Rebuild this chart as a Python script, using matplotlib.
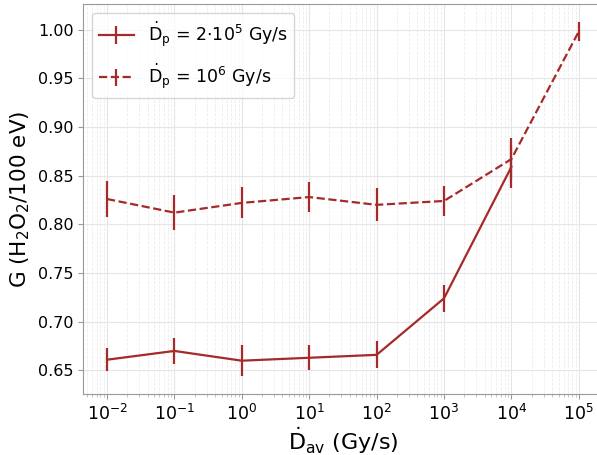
import matplotlib
matplotlib.use("Agg")
import matplotlib.pyplot as plt

# dose rate (Gy/s)
dose_rate = [1e-2, 1e-1, 1e0, 1e1, 1e2, 1e3, 1e4, 1e5]

# Dp = 2e5 Gy/s (ends at 1e4)
g_low = [0.661, 0.670, 0.660, 0.663, 0.666, 0.724, 0.859]
err_low = [0.012, 0.013, 0.016, 0.013, 0.014, 0.014, 0.022]

# Dp = 1e6 Gy/s
g_high = [0.826, 0.812, 0.822, 0.828, 0.820, 0.824, 0.867, 0.998]
err_high = [0.018, 0.018, 0.016, 0.015, 0.017, 0.015, 0.022, 0.010]

color = "#a52a2a"

fig = plt.figure(figsize=(5.97, 4.55), dpi=100)
ax = fig.add_axes([83.4 / 597, 61 / 455, 519 / 597, 390 / 455])

ax.errorbar(dose_rate[:len(g_low)], g_low, yerr=err_low, color=color, lw=1.6,
            elinewidth=1.6, capsize=0,
            label=r"$\dot{\mathrm{D}}_{\mathrm{p}}$ = 2$\cdot$10$^{5}$ Gy/s")
ax.errorbar(dose_rate, g_high, yerr=err_high, color=color, lw=1.6, ls="--",
            elinewidth=1.6, capsize=0,
            label=r"$\dot{\mathrm{D}}_{\mathrm{p}}$ = 10$^{6}$ Gy/s")

ax.set_xscale("log")
ax.set_xticks([1e-2, 1e-1, 1e0, 1e1, 1e2, 1e3, 1e4, 1e5])
ax.set_yticks([0.65, 0.70, 0.75, 0.80, 0.85, 0.90, 0.95, 1.00])
ax.grid(True, which="major", color="#e6e6e6", lw=0.8)
ax.grid(True, which="minor", color="#ececec", lw=0.6, ls="--")
ax.set_axisbelow(True)

for s in ax.spines.values():
    s.set_color("#999999")
ax.tick_params(axis="y", labelsize=11.5)
ax.tick_params(axis="x", labelsize=12.5)
ax.tick_params(colors="#999999", labelcolor="black")
ax.tick_params(which="minor", colors="#bbbbbb")

ax.set_xlabel(r"$\dot{\mathrm{D}}_{\mathrm{av}}$ (Gy/s)", fontsize=16, labelpad=1)
ax.set_ylabel(r"G (H$_2$O$_2$/100 eV)", fontsize=15.5)

ax.legend(loc="upper left", fontsize=12.5, handlelength=2.0, labelspacing=0.75)

fig.savefig("out.png", dpi=100)
